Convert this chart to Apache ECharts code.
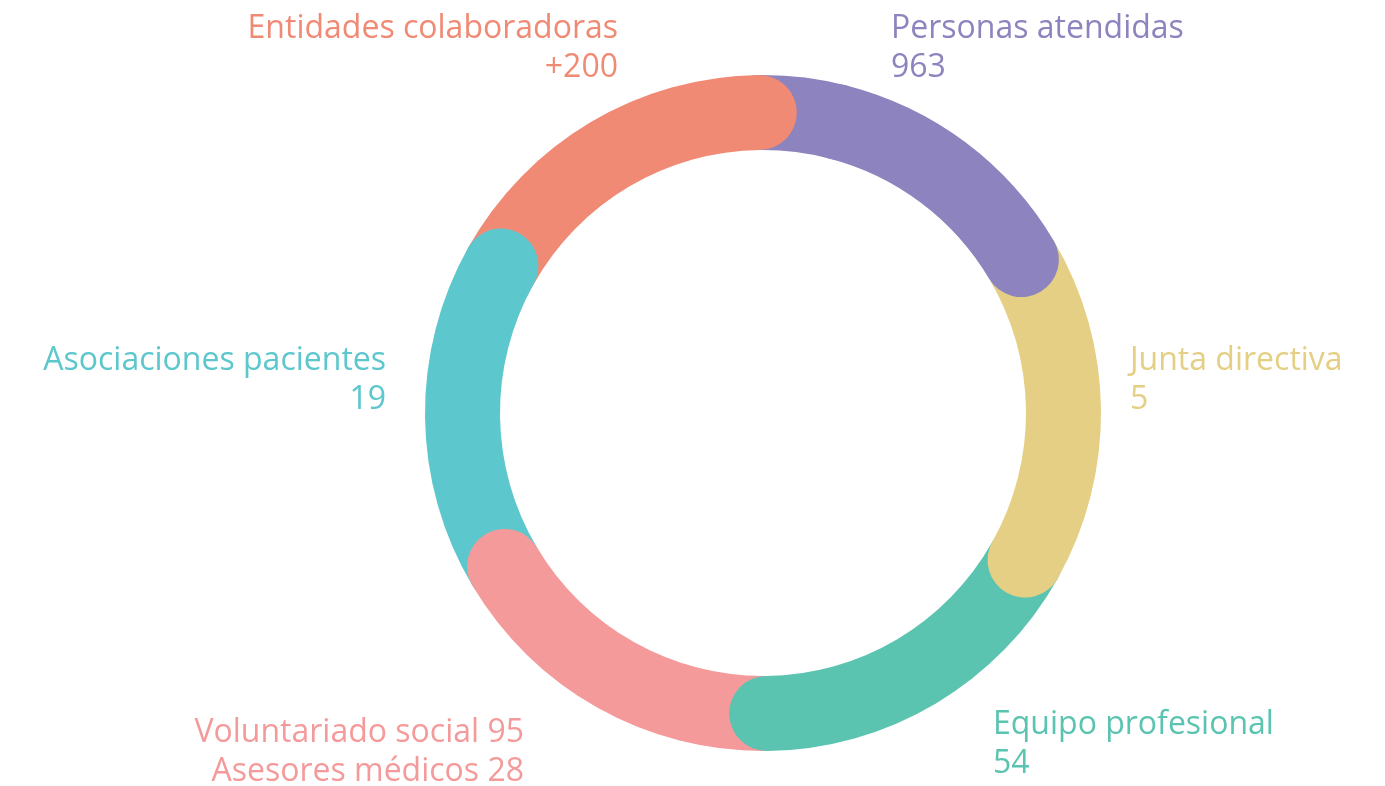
<!DOCTYPE html>
<html>
<head>
<meta charset="utf-8">
<title>Donut</title>
<script src="https://cdn.jsdelivr.net/npm/echarts@6/dist/echarts.min.js"></script>
<style>
	html, body { margin: 0; padding: 0; background: #fff; }
	#chart { width: 1385px; height: 786px; }
</style>
</head>
<body>
<div id="chart"></div>
<script>
	// segments clockwise from 12 o'clock
	var categories = ['Personas atendidas', 'Junta directiva', 'Equipo profesional', 'Voluntariado social', 'Asociaciones pacientes', 'Entidades colaboradoras'];
	var counts = ['963', '5', '54', '95', '19', '+200'];
	var shares = [1, 1, 1, 1, 1, 1];
	var extraCategory = 'Asesores médicos';
	var extraCount = '28';

	var colors = ['#8D83BE', '#E4CF84', '#5BC4B1', '#F59A9A', '#5CC7CC', '#F08A74'];
	// label anchor: x, vertical middle of the block, align
	var labelSpots = [
		[891, 48, 'left'],
		[1130, 380, 'left'],
		[993, 744, 'left'],
		[524, 752, 'right'],
		[386, 380, 'right'],
		[618, 48, 'right']
	];
	var center = [763, 413];
	var radius = [263, 338];
	var startAngle = 90.7;

	var fontFamily = '"Open Sans", "Noto Sans", sans-serif';

	// first segment split in two so the last one can overlap its start
	var firstPart = 0.25;
	var barSeries = [];
	var pieces = [];
	pieces.push({ idx: 0, value: shares[0] * firstPart, z: 1 });
	pieces.push({ idx: 0, value: shares[0] * (1 - firstPart), z: 9 });
	for (var i = 1; i < shares.length; i++) {
		pieces.push({ idx: i, value: shares[i], z: 9 - i });
	}
	pieces.forEach(function (p) {
		barSeries.push({
			type: 'bar',
			coordinateSystem: 'polar',
			stack: 'ring',
			roundCap: true,
			barCategoryGap: '0%',
			z: p.z,
			silent: true,
			itemStyle: { color: colors[p.idx] },
			data: [p.value]
		});
	});

	var total = shares.reduce(function (a, b) { return a + b; }, 0);

	var myChart = echarts.init(document.getElementById('chart'));
	myChart.setOption({
		animation: false,
		polar: {
			center: center,
			radius: radius
		},
		angleAxis: {
			type: 'value',
			min: 0,
			max: total,
			startAngle: startAngle,
			clockwise: true,
			show: false
		},
		radiusAxis: {
			type: 'category',
			data: ['ring'],
			show: false
		},
		series: barSeries.concat([{
			type: 'pie',
			center: center,
			radius: radius,
			startAngle: startAngle,
			silent: true,
			avoidLabelOverlap: false,
			itemStyle: { color: 'rgba(0,0,0,0)' },
			labelLine: { show: false },
			label: {
				show: true,
				fontFamily: fontFamily,
				fontSize: 32,
				lineHeight: 39,
				formatter: function (p) {
					if (p.dataIndex === 3) {
						return categories[3] + ' ' + counts[3] + '\n' + extraCategory + ' ' + extraCount;
					}
					return categories[p.dataIndex] + '\n' + counts[p.dataIndex];
				}
			},
			labelLayout: function (p) {
				var s = labelSpots[p.dataIndex];
				return { x: s[0], y: s[1], align: s[2], verticalAlign: 'middle' };
			},
			data: categories.map(function (name, i) {
				return {
					name: name,
					value: shares[i],
					label: { color: colors[i], align: labelSpots[i][2] }
				};
			})
		}])
	});

	window.addEventListener('resize', function () {
		myChart.resize();
	});
</script>
</body>
</html>
